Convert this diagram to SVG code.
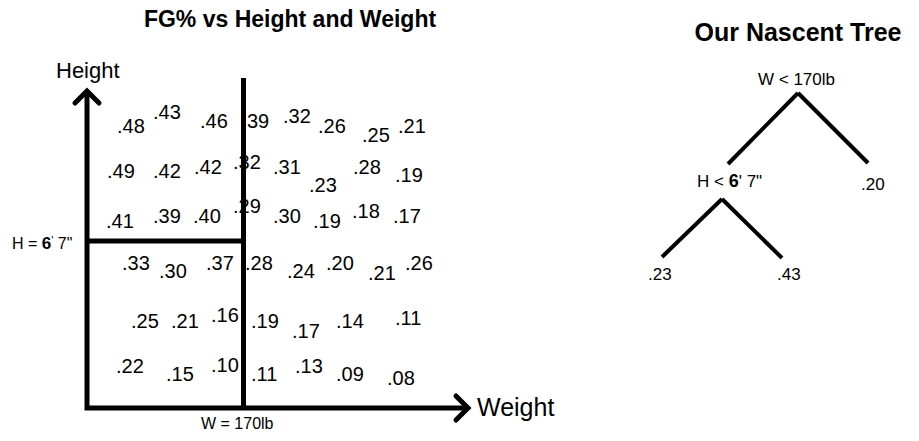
<svg xmlns="http://www.w3.org/2000/svg" width="919" height="441" viewBox="0 0 919 441">
<style>
.t{font-family:"Liberation Sans",Arial,sans-serif;fill:#000}
.title{font-weight:bold;font-size:23px;text-anchor:middle}
.n{font-size:20px}
.ax{fill:none;stroke:#000;stroke-width:5}
.chev{fill:none;stroke:#000;stroke-width:5;stroke-linecap:round;stroke-linejoin:miter}
.edge{stroke:#000;stroke-width:4;fill:none}
.lbl{font-size:16px}
.tn{font-size:17px}
</style>
<rect width="919" height="441" fill="#fff"/>
<text class="t title" x="290" y="27">FG% vs Height and Weight</text>
<text class="t title" x="798" y="41" style="font-size:25px">Our Nascent Tree</text>
<g id="chart">
<text class="t" x="56" y="78" font-size="22">Height</text>
<text class="t" x="477" y="416" font-size="25">Weight</text>
<text class="t lbl" x="12" y="249">H = <tspan font-weight="bold" font-size="17">6</tspan><tspan font-size="11" dy="-5">'</tspan><tspan dy="5"> 7"</tspan></text>
<text class="t lbl" x="201" y="429">W = 170lb</text>
<g id="values">
<text class="t n" x="117" y="133">.48</text>
<text class="t n" x="153" y="119">.43</text>
<text class="t n" x="200" y="128">.46</text>
<text class="t n" x="247" y="128">39</text>
<text class="t n" x="283" y="123">.32</text>
<text class="t n" x="318" y="133">.26</text>
<text class="t n" x="362" y="142">.25</text>
<text class="t n" x="398" y="133">.21</text>
<text class="t n" x="107" y="178">.49</text>
<text class="t n" x="153" y="178">.42</text>
<text class="t n" x="194" y="174">.42</text>
<text class="t n" x="233" y="169">.32</text>
<text class="t n" x="273" y="174">.31</text>
<text class="t n" x="309" y="192">.23</text>
<text class="t n" x="353" y="174">.28</text>
<text class="t n" x="395" y="182">.19</text>
<text class="t n" x="106" y="228">.41</text>
<text class="t n" x="153" y="223">.39</text>
<text class="t n" x="193" y="223">.40</text>
<text class="t n" x="233" y="213">.29</text>
<text class="t n" x="273" y="223">.30</text>
<text class="t n" x="313" y="228">.19</text>
<text class="t n" x="352" y="218">.18</text>
<text class="t n" x="393" y="223">.17</text>
<text class="t n" x="122" y="270">.33</text>
<text class="t n" x="159" y="278">.30</text>
<text class="t n" x="206" y="270">.37</text>
<text class="t n" x="245" y="270">.28</text>
<text class="t n" x="287" y="278">.24</text>
<text class="t n" x="326" y="270">.20</text>
<text class="t n" x="368" y="280">.21</text>
<text class="t n" x="405" y="270">.26</text>
<text class="t n" x="131" y="328">.25</text>
<text class="t n" x="171" y="328">.21</text>
<text class="t n" x="211" y="322">.16</text>
<text class="t n" x="251" y="328">.19</text>
<text class="t n" x="292" y="338">.17</text>
<text class="t n" x="336" y="328">.14</text>
<text class="t n" x="395" y="325">.11</text>
<text class="t n" x="116" y="373">.22</text>
<text class="t n" x="166" y="381">.15</text>
<text class="t n" x="211" y="372">.10</text>
<text class="t n" x="251" y="381">.11</text>
<text class="t n" x="295" y="373">.13</text>
<text class="t n" x="336" y="381">.09</text>
<text class="t n" x="387" y="385">.08</text>
</g>
<polyline class="ax" points="87,93 87,408 467,408"/>
<polyline class="chev" points="75,103 87,91 99,103"/>
<polyline class="chev" points="456,396 468,408 456,420"/>
<line class="ax" x1="243.5" y1="78" x2="243.5" y2="408"/>
<line class="ax" x1="87" y1="241" x2="246" y2="241"/>
</g>
<g id="connectors">
<line class="edge" x1="798" y1="93" x2="728" y2="164"/>
<line class="edge" x1="798" y1="93" x2="868" y2="163"/>
<line class="edge" x1="722" y1="199" x2="662" y2="257"/>
<line class="edge" x1="722" y1="199" x2="782" y2="258"/>
</g>
<g id="node-root"><text class="t tn" x="758" y="85">W &lt; 170lb</text></g>
<g id="node-height"><text class="t tn" x="697" y="187">H &lt; <tspan font-weight="bold" font-size="18">6</tspan>' 7"</text></g>
<g id="leaf-20"><text class="t tn" x="861" y="190">.20</text></g>
<g id="leaf-23"><text class="t tn" x="648" y="280">.23</text></g>
<g id="leaf-43"><text class="t tn" x="777" y="280">.43</text></g>
</svg>
